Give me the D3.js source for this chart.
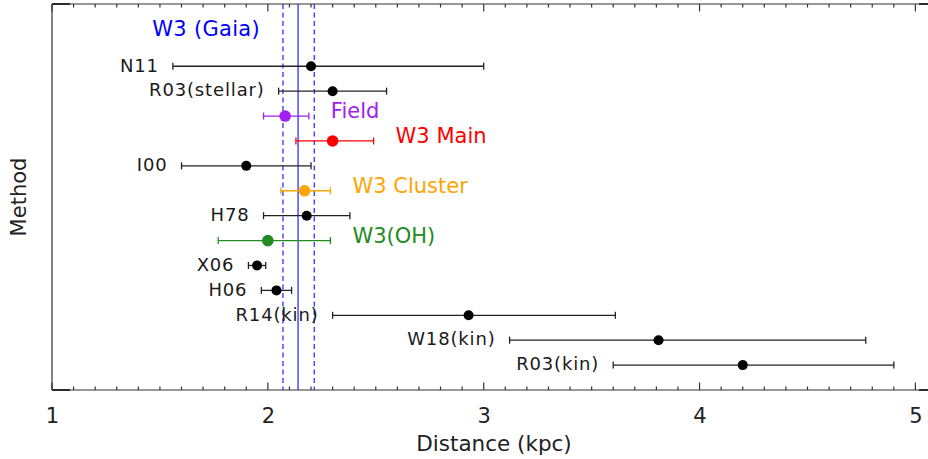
<!DOCTYPE html>
<html>
<head>
<meta charset="utf-8">
<script src="https://cdn.jsdelivr.net/npm/d3@7"></script>
<style>
  html, body { margin: 0; padding: 0; background: #fff; }
  svg { display: block; font-family: "DejaVu Sans", sans-serif; }
</style>
</head>
<body>
<svg id="chart" width="928" height="459"></svg>
<script>
// ---- data ----
const methods   = ["N11", "R03(stellar)", "Field", "W3 Main", "I00", "W3 Cluster", "H78", "W3(OH)", "X06", "H06", "R14(kin)", "W18(kin)", "R03(kin)"];
const distances = [2.20, 2.30, 2.08, 2.30, 1.90, 2.17, 2.18, 2.00, 1.95, 2.04, 2.93, 3.81, 4.20];
const lowerErr  = [1.56, 2.05, 1.98, 2.13, 1.60, 2.06, 1.98, 1.77, 1.91, 1.97, 2.30, 3.12, 3.60];
const upperErr  = [3.00, 2.55, 2.19, 2.49, 2.20, 2.29, 2.38, 2.29, 1.99, 2.11, 3.61, 4.77, 4.90];
const colors    = ["black", "black", "#a020f0", "#ff0000", "black", "#ffa500", "black", "#228b22", "black", "black", "black", "black", "black"];
const gaiaLabel = "W3 (Gaia)";
const gaiaDist  = 2.14;
const gaiaLow   = 2.07;
const gaiaHigh  = 2.215;
const xTicks    = [1, 2, 3, 4, 5];
const xTitle    = "Distance (kpc)";
const yTitle    = "Method";

(function () {
const rows = methods.map((m, i) => ({
  name: m, idx: i, d: distances[i], lo: lowerErr[i], hi: upperErr[i], color: colors[i]
}));

// ---- layout ----
const pLeft = 52, pRight = 937, pTop = 4, pBottom = 390;
const svg = d3.select("#chart");

const x = d3.scaleLinear().domain([1, 5.1]).range([pLeft, pRight]);
const y = d3.scaleLinear().domain([-2.5, 13]).range([pTop, pBottom]);

const axisColor = "#333";

// Gaia vertical lines
const gaia = svg.append("g");
gaia.append("line")
  .attr("x1", x(gaiaDist)).attr("x2", x(gaiaDist))
  .attr("y1", pTop).attr("y2", pBottom)
  .attr("stroke", "#2020ff").attr("stroke-width", 1.2);
[gaiaLow, gaiaHigh].forEach(v => {
  gaia.append("line")
    .attr("x1", x(v)).attr("x2", x(v))
    .attr("y1", pTop).attr("y2", pBottom)
    .attr("stroke", "#2020ff").attr("stroke-width", 1.2)
    .attr("stroke-dasharray", "5,3.5");
});
gaia.append("text")
  .attr("x", x(gaiaLow) - 23).attr("y", y(-1.5))
  .attr("dy", "0.35em")
  .attr("text-anchor", "end")
  .attr("font-size", 21)
  .attr("letter-spacing", 0.3)
  .attr("fill", "#0000ff")
  .text(gaiaLabel);

// ---- axes ----
const gAxes = svg.append("g");

gAxes.append("line").attr("x1", pLeft).attr("x2", 928).attr("y1", pBottom).attr("y2", pBottom)
  .attr("stroke", axisColor).attr("stroke-width", 1.2);
gAxes.append("line").attr("x1", pLeft).attr("x2", 928).attr("y1", pTop).attr("y2", pTop)
  .attr("stroke", axisColor).attr("stroke-width", 1.2);
gAxes.append("line").attr("x1", pLeft).attr("x2", pLeft).attr("y1", pTop).attr("y2", pBottom)
  .attr("stroke", axisColor).attr("stroke-width", 1.2);

// y-axis end ticks (horizontal)
[pTop, pBottom].forEach(yy => {
  gAxes.append("line").attr("x1", pLeft).attr("x2", pLeft + 18).attr("y1", yy).attr("y2", yy)
    .attr("stroke", "#111").attr("stroke-width", 1.6);
  gAxes.append("line").attr("x1", pRight - 18).attr("x2", 928).attr("y1", yy).attr("y2", yy)
    .attr("stroke", "#111").attr("stroke-width", 1.6);
});

// minor + major ticks on bottom and top
const tickVals = d3.range(10, 51).map(v => v / 10);
const isMajor = v => Math.abs(v - Math.round(v)) < 1e-6;
const tickG = gAxes.append("g");
tickVals.forEach(v => {
  const len = isMajor(v) ? 7.5 : 3.5;
  tickG.append("line").attr("x1", x(v)).attr("x2", x(v))
    .attr("y1", pBottom).attr("y2", pBottom - len)
    .attr("stroke", axisColor).attr("stroke-width", 1.2);
  tickG.append("line").attr("x1", x(v)).attr("x2", x(v))
    .attr("y1", pTop).attr("y2", pTop + len)
    .attr("stroke", axisColor).attr("stroke-width", 1.2);
});

// tick labels via a D3 axis (lines hidden)
const labAxis = svg.append("g")
  .attr("transform", `translate(0,${pBottom})`)
  .call(d3.axisBottom(x).tickValues(xTicks).tickFormat(d3.format("d")).tickSize(0).tickPadding(0));
labAxis.select(".domain").remove();
labAxis.selectAll("text")
  .attr("y", 33).attr("dy", 0)
  .attr("font-size", 21)
  .attr("font-family", "DejaVu Sans, sans-serif")
  .attr("fill", "#222");

// axis titles
svg.append("text")
  .attr("x", (pLeft + 926) / 2 + 5).attr("y", 451)
  .attr("text-anchor", "middle")
  .attr("font-size", 21.5)
  .attr("fill", "#222")
  .text(xTitle);
svg.append("text")
  .attr("transform", `translate(26,${(pTop + pBottom) / 2}) rotate(-90)`)
  .attr("text-anchor", "middle")
  .attr("font-size", 21)
  .attr("fill", "#222")
  .text(yTitle);

// ---- error bars ----
const g = svg.append("g");
const capH = 3.5;
const rowsG = g.selectAll("g.row").data(rows).join("g").attr("class", "row");
const lineCol = d => d.color === "black" ? "#222" : d.color;

rowsG.append("line")
  .attr("x1", d => x(d.lo)).attr("x2", d => x(d.hi))
  .attr("y1", d => y(d.idx)).attr("y2", d => y(d.idx))
  .attr("stroke", lineCol).attr("stroke-width", 1.3);
rowsG.append("line")
  .attr("x1", d => x(d.lo)).attr("x2", d => x(d.lo))
  .attr("y1", d => y(d.idx) - capH).attr("y2", d => y(d.idx) + capH)
  .attr("stroke", lineCol).attr("stroke-width", 1.3);
rowsG.append("line")
  .attr("x1", d => x(d.hi)).attr("x2", d => x(d.hi))
  .attr("y1", d => y(d.idx) - capH).attr("y2", d => y(d.idx) + capH)
  .attr("stroke", lineCol).attr("stroke-width", 1.3);
rowsG.append("circle")
  .attr("cx", d => x(d.d)).attr("cy", d => y(d.idx))
  .attr("r", d => d.color === "black" ? 5 : 5.8)
  .attr("fill", d => d.color);

// labels: black ones to the left, coloured ones to the right
rowsG.append("text")
  .attr("x", d => d.color === "black" ? x(d.lo) - 14 : x(d.hi) + 22)
  .attr("y", d => d.color === "black" ? y(d.idx) - 1 : y(d.idx) - 5)
  .attr("dy", "0.35em")
  .attr("text-anchor", d => d.color === "black" ? "end" : "start")
  .attr("font-size", d => d.color === "black" ? 18 : 21)
  .attr("letter-spacing", d => d.color === "black" ? 0.85 : 0)
  .attr("fill", d => d.color === "black" ? "#1a1a1a" : d.color)
  .text(d => d.name);
})();
</script>
</body>
</html>
